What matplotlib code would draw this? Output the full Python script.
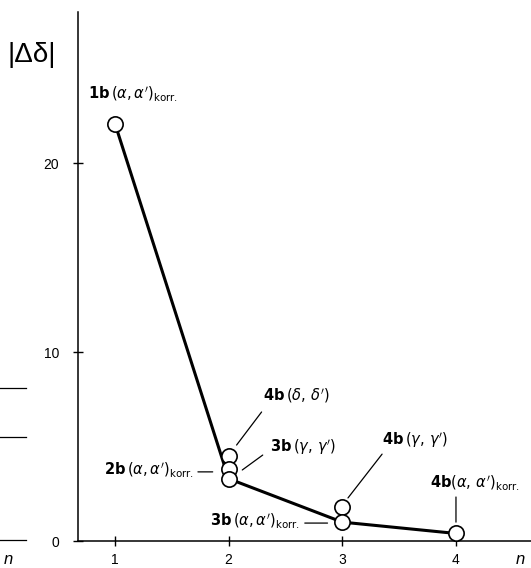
import matplotlib
matplotlib.use('Agg')
import matplotlib.pyplot as plt
from matplotlib.lines import Line2D

# korr. series, joined by the line
n_korr = [1, 2, 3, 4]
dd_korr = [22.1, 3.3, 1.0, 0.4]

# other pairs (open circles only)
n_other = [2, 2, 3]
dd_other = [4.5, 3.8, 1.8]

x_ticks = [1, 2, 3, 4]
y_ticks = [0, 10, 20]

# label text, text position (data), alignment, leader line (data) or None
labels = [
    (r"$\mathbf{1b}\,(\alpha,\alpha')_{\mathrm{korr.}}$", (0.76, 23.7), 'left', None),
    (r"$\mathbf{4b}\,(\delta,\,\delta')$", (2.30, 7.67), 'left', ((2.29, 6.83), (2.07, 5.08))),
    (r"$\mathbf{3b}\,(\gamma,\,\gamma')$", (2.36, 4.97), 'left', ((2.30, 4.55), (2.12, 3.76))),
    (r"$\mathbf{2b}\,(\alpha,\alpha')_{\mathrm{korr.}}$", (1.70, 3.76), 'right', ((1.73, 3.66), (1.86, 3.66))),
    (r"$\mathbf{4b}\,(\gamma,\,\gamma')$", (3.35, 5.34), 'left', ((3.35, 4.6), (3.05, 2.28))),
    (r"$\mathbf{3b}\,(\alpha,\alpha')_{\mathrm{korr.}}$", (2.63, 1.06), 'right', ((2.67, 0.95), (2.87, 0.95))),
    (r"$\mathbf{4b}(\alpha,\,\alpha')_{\mathrm{korr.}}$", (3.77, 3.12), 'left', ((4.0, 2.33), (4.0, 1.0))),
]

plt.rcParams['font.family'] = ['Liberation Sans', 'DejaVu Sans']
plt.rcParams['mathtext.fontset'] = 'dejavusans'

fig = plt.figure(figsize=(5.31, 5.68), dpi=100)
ax = fig.add_axes([0.1469, 0.0475, 0.8531, 0.9313])

ax.plot(n_korr, dd_korr, color='black', lw=2.2, zorder=2)
ax.plot(n_other, dd_other, 'o', ms=11, mfc='white', mec='black', mew=1.2, zorder=3)
ax.plot(n_korr, dd_korr, 'o', ms=11, mfc='white', mec='black', mew=1.2, zorder=4)

for text, pos, ha, leader in labels:
    ax.text(pos[0], pos[1], text, ha=ha, va='center', fontsize=10.5)
    if leader is not None:
        ax.annotate('', xy=leader[1], xytext=leader[0],
                    arrowprops=dict(arrowstyle='-', color='black', lw=0.9,
                                    shrinkA=0, shrinkB=0))

ax.set_xlim(0.675, 4.66)
ax.set_ylim(0, 28.0)
ax.set_xticks(x_ticks)
ax.set_yticks(y_ticks)
ax.tick_params(direction='inout', length=7, width=1.0, labelsize=10)
ax.tick_params(axis='y', pad=10)
ax.tick_params(axis='x', pad=5)
for side in ['top', 'right']:
    ax.spines[side].set_visible(False)
for side in ['left', 'bottom']:
    ax.spines[side].set_linewidth(1.1)

fig.text(8 / 531, 1 - 55 / 568, "|Δδ|", fontsize=20, va='center', ha='left')
fig.text(520 / 531, 1 - 560 / 568, 'n', fontsize=12, style='italic', ha='center', va='center')

# traces of the neighbouring figure at the left margin
for y in [388, 437, 540]:
    fig.add_artist(Line2D([0, 26 / 531], [1 - y / 568] * 2, color='black', lw=0.9))
fig.text(8 / 531, 1 - 560 / 568, 'n', fontsize=12, style='italic', ha='center', va='center')

fig.savefig('out.png', dpi=100)
